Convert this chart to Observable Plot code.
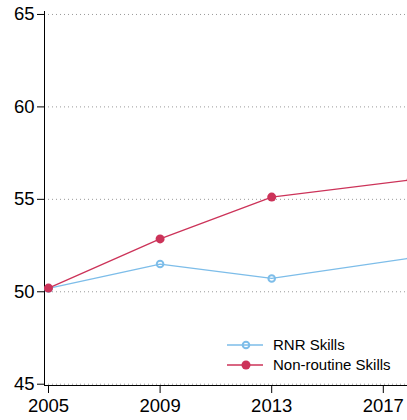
<!DOCTYPE html>
<html>
<head>
<meta charset="utf-8">
<script src="https://cdn.jsdelivr.net/npm/d3@7"></script>
<script src="https://cdn.jsdelivr.net/npm/@observablehq/plot@0.6"></script>
<style>
  html, body { margin: 0; padding: 0; background: #fff; }
  #wrap { position: relative; width: 407px; height: 420px; overflow: hidden; font-family: "Liberation Sans", Arial, Helvetica, sans-serif; }
  #legend { position: absolute; left: 222px; top: 333px; }
</style>
</head>
<body>
<div id="wrap"></div>
<script>
const years = [2005, 2009, 2013, 2018];
const rnrValues = [50.18, 51.50, 50.72, 51.83];
const nonRoutineValues = [50.2, 52.86, 55.12, 56.05];
const seriesNames = ["RNR Skills", "Non-routine Skills"];
const seriesColors = ["#7dbde9", "#cc3359"];
const xTicks = [2005, 2009, 2013, 2017];
const yTicks = [45, 50, 55, 60, 65];

const rnr = years.map((y, i) => ({year: y, value: rnrValues[i]}));
const nonr = years.map((y, i) => ({year: y, value: nonRoutineValues[i]}));

const chart = Plot.plot({
  width: 407,
  height: 420,
  marginLeft: 44,
  marginRight: 0,
  marginTop: 11,
  marginBottom: 35,
  style: {fontFamily: '"Liberation Sans", Arial, Helvetica, sans-serif', background: "#fff", color: "#000"},
  x: {domain: [2004.857, 2017.867]},
  y: {domain: [44.93, 65.16]},
  marks: [
    Plot.gridY(yTicks, {stroke: "#999", strokeOpacity: 1, strokeWidth: 1, strokeDasharray: "1,3"}),
    Plot.axisY(yTicks, {tickSize: 7, tickPadding: 3, fontSize: 18.5, stroke: "#000", label: null}),
    Plot.axisX(xTicks, {tickSize: 8, tickPadding: 5, fontSize: 18.5, tickFormat: d3.format("d"), label: null}),
    Plot.frame({anchor: "left", stroke: "#000"}),
    Plot.frame({anchor: "bottom", stroke: "#000"}),
    Plot.line(rnr, {x: "year", y: "value", stroke: seriesColors[0], strokeWidth: 1.3, clip: true}),
    Plot.dot(rnr, {x: "year", y: "value", r: 3.3, stroke: seriesColors[0], strokeWidth: 2, fill: "none", clip: true}),
    Plot.line(nonr, {x: "year", y: "value", stroke: seriesColors[1], strokeWidth: 1.3, clip: true}),
    Plot.dot(nonr, {x: "year", y: "value", r: 4.5, fill: seriesColors[1], clip: true})
  ]
});
document.getElementById("wrap").appendChild(chart);

// legend
const legend = d3.select("#wrap").append("svg")
  .attr("id", "legend").attr("width", 185).attr("height", 45);
seriesNames.forEach((name, i) => {
  const g = legend.append("g").attr("transform", `translate(0,${12 + i * 20})`);
  g.append("line").attr("x1", 5).attr("x2", 41).attr("y1", 0).attr("y2", 0)
    .attr("stroke", seriesColors[i]).attr("stroke-width", 1.3);
  if (i === 0) {
    g.append("circle").attr("cx", 24).attr("cy", 0).attr("r", 3.3)
      .attr("fill", "none").attr("stroke", seriesColors[i]).attr("stroke-width", 2);
  } else {
    g.append("circle").attr("cx", 24).attr("cy", 0).attr("r", 4.5).attr("fill", seriesColors[i]);
  }
  g.append("text").attr("x", 51).attr("y", 0).attr("dy", "0.35em")
    .attr("font-size", 15).attr("font-family", '"Liberation Sans", Arial, Helvetica, sans-serif')
    .attr("fill", "#000").text(name);
});
</script>
</body>
</html>
